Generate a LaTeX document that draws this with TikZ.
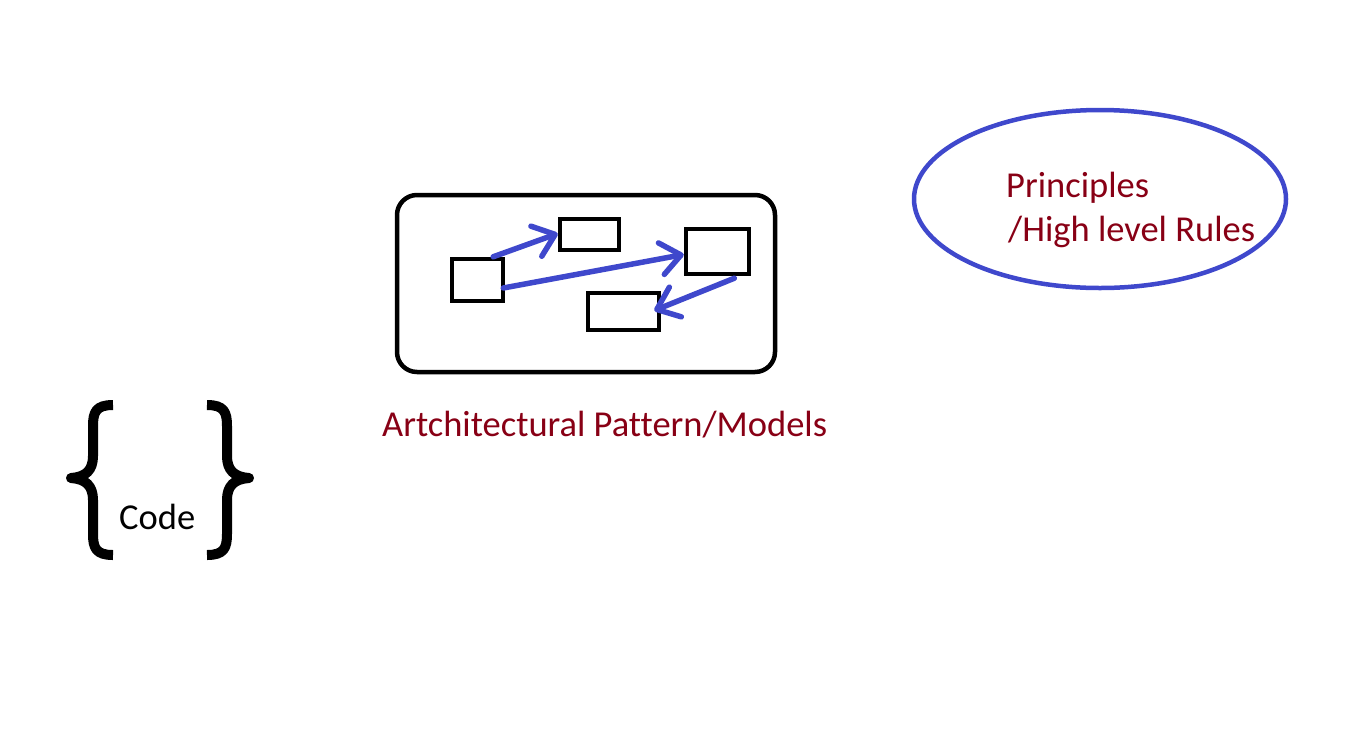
\documentclass[tikz,border=0pt]{standalone}
\usepackage{fontspec}
\setmainfont{Carlito}[Ligatures=NoCommon]
\usetikzlibrary{arrows.meta,shapes.geometric,calc}
\definecolor{pblue}{RGB}{63,72,204}
\definecolor{pred}{RGB}{136,0,21}
\tikzset{
  smallbox/.style={draw=black, line width=4.5pt, rectangle, inner sep=0pt},
  flow/.style={draw=pblue, line width=5.5pt, line cap=round,
    -{Straight Barb[round,length=20pt,width=32pt]}},
  lbl/.style={inner sep=0pt, anchor=base west, font=\fontsize{36.5}{44}\selectfont},
  brace/.style={draw=black, line width=10pt, line cap=butt, line join=round}
}
\begin{document}
\begin{tikzpicture}[x=1pt,y=-1pt]
\useasboundingbox (0,0) rectangle (1365,748);
% outer rounded box
\node (frame) [draw=black, line width=4.5pt, rounded corners=20pt, inner sep=0pt,
  minimum width=378pt, minimum height=177pt] at (586,283.5) {};
% inner boxes
\node (A) [smallbox, minimum width=51pt, minimum height=42pt] at (477.5,280) {};
\node (B) [smallbox, minimum width=59pt, minimum height=31pt] at (589.5,234.5) {};
\node (C) [smallbox, minimum width=63pt, minimum height=45pt] at (717.5,251.5) {};
\node (D) [smallbox, minimum width=71pt, minimum height=37pt] at (623.5,311.5) {};
% arrows
\draw[flow] ($(A.north east)+(-12,0)$) -- ($(B.west)+(0,-1)$);
\draw[flow] ($(A.east)+(-2,8)$) -- ($(C.west)+(0,3)$);
\draw[flow] ($(C.south east)+(-17,2)$) -- ($(D.east)+(-7,-1)$);
% label under frame
\node (arch) [lbl, text=pred] at (382,436) {Artchitectural Pattern/Models};
% ellipse
\node (ell) [draw=pblue, line width=4.5pt, ellipse, inner sep=0pt,
  minimum width=372pt, minimum height=178pt] at (1100,199) {};
\node (p1) [lbl, text=pred] at (1006,197) {Principles};
\node (p2) [lbl, text=pred] at (1008,241) {/High level Rules};
% braces
\path[brace] (113,405) .. controls (96,405) and (93,412) .. (93,426)
  -- (93,456) .. controls (93,470) and (86,477) .. (71,478)
  .. controls (86,479) and (93,486) .. (93,500)
  -- (93,534) .. controls (93,548) and (96,555) .. (113,555);
\path[brace] (207,405) .. controls (224,405) and (227,412) .. (227,426)
  -- (227,456) .. controls (227,470) and (234,477) .. (249,478)
  .. controls (234,479) and (227,486) .. (227,500)
  -- (227,534) .. controls (227,548) and (224,555) .. (207,555);
\node (code) [lbl, text=black] at (119,529) {Code};
\end{tikzpicture}
\end{document}
